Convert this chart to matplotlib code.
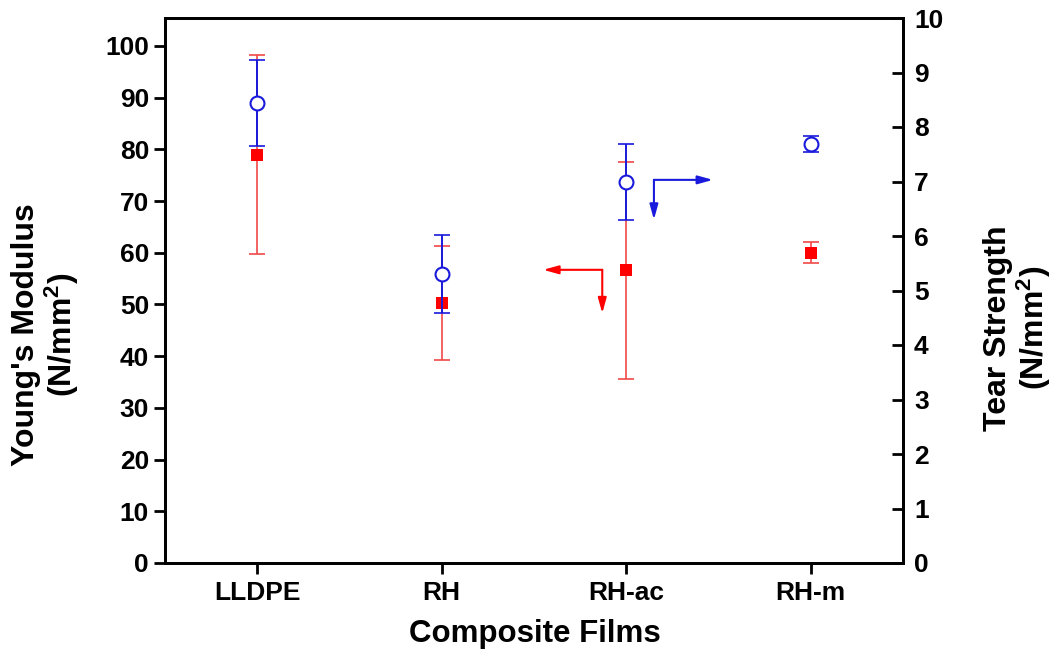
import matplotlib
matplotlib.use("Agg")
import matplotlib.pyplot as plt

films = ["LLDPE", "RH", "RH-ac", "RH-m"]
youngs_modulus = [79.0, 50.3, 56.6, 60.0]
youngs_err = [19.3, 11.0, 21.0, 2.0]
tear_strength = [8.44, 5.30, 6.99, 7.69]
tear_err = [0.79, 0.72, 0.69, 0.15]

plt.rcParams["font.family"] = ["Liberation Sans", "DejaVu Sans"]
plt.rcParams["font.weight"] = "bold"
plt.rcParams["mathtext.fontset"] = "custom"
plt.rcParams["mathtext.rm"] = "Liberation Sans:bold"
plt.rcParams["mathtext.bf"] = "Liberation Sans:bold"
plt.rcParams["mathtext.it"] = "Liberation Sans:bold"

RED = "#ff0000"
RED_BAR = "#f04848"
BLUE = "#1a1adc"

fig = plt.figure(figsize=(10.56, 6.54), dpi=100)
ax = fig.add_axes([165 / 1056, 1 - 563 / 654, (903 - 165) / 1056, (563 - 18) / 654])
ax2 = ax.twinx()

x = list(range(len(films)))

# Young's modulus on the left axis
ax.errorbar(x, youngs_modulus, yerr=youngs_err, fmt="none",
            ecolor=RED_BAR, elinewidth=1.2, capsize=5.5, capthick=1.2, zorder=2)
ax.plot(x, youngs_modulus, "s", color=RED, markersize=9, markeredgewidth=0, zorder=3)

# tear strength on the right axis
ax2.errorbar(x, tear_strength, yerr=tear_err, fmt="none",
             ecolor=BLUE, elinewidth=1.4, capsize=5.5, capthick=1.2, zorder=2)
ax2.plot(x, tear_strength, "o", markersize=10, markerfacecolor="white",
         markeredgecolor=BLUE, markeredgewidth=1.5, zorder=3)

ax.set_xlim(-0.5, 3.5)
ax.set_ylim(0, 105.4)
ax2.set_ylim(0, 10)

ax.set_xticks(x)
ax.set_xticklabels(films)
ax.set_yticks(range(0, 101, 10))
ax2.set_yticks(range(0, 11, 1))

for a in (ax, ax2):
    for s in a.spines.values():
        s.set_linewidth(2)
ax.tick_params(axis="both", labelsize=19, width=2, length=8, direction="out", pad=3.5)
ax.tick_params(axis="x", pad=5)
ax2.tick_params(axis="y", labelsize=19, width=2, length=8, direction="in", pad=8)

for lbl in ax.get_xticklabels() + ax.get_yticklabels() + ax2.get_yticklabels():
    lbl.set_fontweight("bold")

fig.text(535 / 1056, 1 - 634 / 654, "Composite Films", ha="center", va="center",
         fontsize=22.5, fontweight="bold")

fig.text(46 / 1056, 1 - 335 / 654, "Young's Modulus\n(N/mm$^{2}$)", rotation=90,
         ha="center", va="center", multialignment="center", fontsize=23,
         fontweight="bold", linespacing=1.05)
fig.text(1018 / 1056, 1 - 328 / 654, "Tear Strength\n(N/mm$^{2}$)", rotation=90,
         ha="center", va="center", multialignment="center", fontsize=23,
         fontweight="bold", linespacing=1.05)

# arrows pointing to the axis each series belongs to
arrow_style = "-|>,head_length=0.9,head_width=0.25"
ax.annotate("", xy=(1.55, 56.7), xytext=(1.87, 56.7),
            arrowprops=dict(arrowstyle=arrow_style, color=RED, lw=1.5, shrinkA=0, shrinkB=0))
ax.annotate("", xy=(1.87, 48.3), xytext=(1.87, 56.7),
            arrowprops=dict(arrowstyle=arrow_style, color=RED, lw=1.5, shrinkA=0, shrinkB=0))
ax2.annotate("", xy=(2.47, 7.03), xytext=(2.15, 7.03),
             arrowprops=dict(arrowstyle=arrow_style, color=BLUE, lw=1.5, shrinkA=0, shrinkB=0))
ax2.annotate("", xy=(2.15, 6.3), xytext=(2.15, 7.03),
             arrowprops=dict(arrowstyle=arrow_style, color=BLUE, lw=1.5, shrinkA=0, shrinkB=0))

fig.savefig("out.png", dpi=100)
